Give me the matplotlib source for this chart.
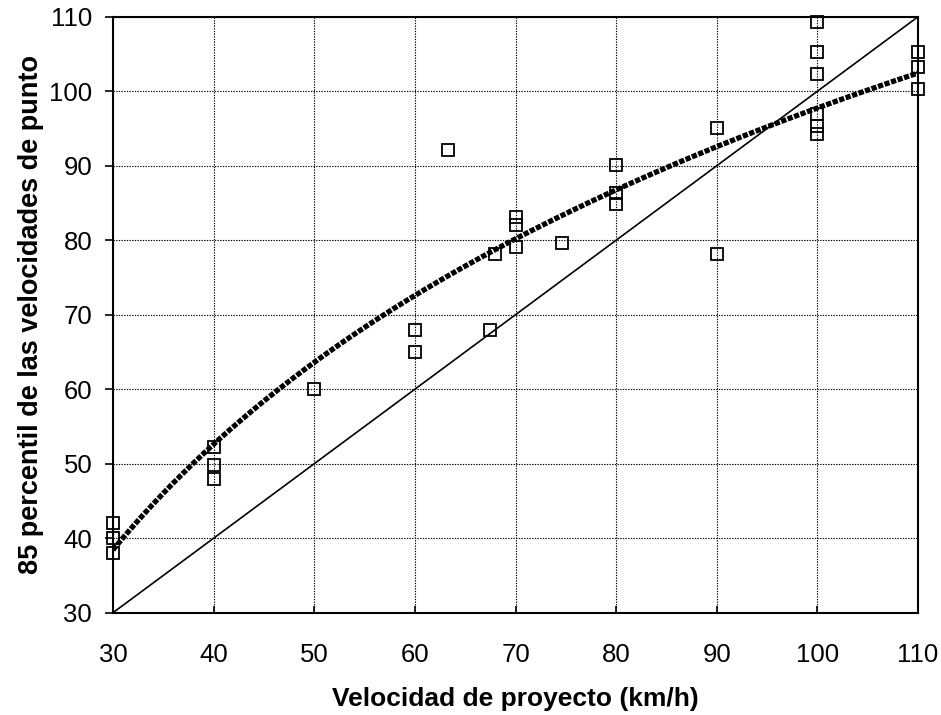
import numpy as np
import matplotlib
matplotlib.use("Agg")
import matplotlib.pyplot as plt

plt.rcParams['font.family'] = ['Liberation Sans', 'DejaVu Sans']

# Observed data (design speed vs 85th percentile spot speed)
design_speed = [30, 30, 30, 40, 40, 40, 50, 60, 60, 63.3, 67.5, 68, 70, 70, 70,
                74.6, 80, 80, 80, 90, 90, 100, 100, 100, 100, 100, 100,
                110, 110, 110]
v85 = [42, 40, 38, 52.2, 49.8, 48, 60, 68, 65, 92.1, 68, 78.1, 83.1, 82, 79.1,
       79.6, 90.1, 86.3, 84.9, 95, 78.1, 109.3, 105.2, 102.3, 97, 95.3, 94.2,
       105.2, 103.2, 100.3]

# Logarithmic trendline y = a + b*ln(x), coefficients
trend_a = -129.1
trend_b = 49.26
trend_range = [30, 110]

x_ticks = [30, 40, 50, 60, 70, 80, 90, 100, 110]
y_ticks = [30, 40, 50, 60, 70, 80, 90, 100, 110]

fig = plt.figure(figsize=(9.41, 7.15), dpi=100)
ax = fig.add_axes([0.1201, 0.1431, 0.8555, 0.8335])

xf = np.linspace(trend_range[0], trend_range[1], 400)
ax.plot(xf, trend_a + trend_b * np.log(xf), color='black', lw=3.8,
        linestyle=(0, (1.0, 0.3)), dash_capstyle='butt', zorder=3)

# 1:1 line
ax.plot([30, 110], [30, 110], color='black', lw=1.2, zorder=3)

# Scatter points
ax.plot(design_speed, v85, linestyle='none', marker='s', markersize=8.7,
        markerfacecolor='none', markeredgecolor='black', markeredgewidth=1.3,
        clip_on=False, zorder=4)

ax.set_xlim(30, 110)
ax.set_ylim(30, 110)
ax.set_xticks(x_ticks)
ax.set_yticks(y_ticks)
ax.grid(True, color='black', linestyle=(0, (1.2, 1.2)), linewidth=0.8)
ax.set_axisbelow(True)

for s in ax.spines.values():
    s.set_linewidth(1.5)
    s.set_color('black')

ax.tick_params(axis='x', direction='in', length=5, width=1.2, pad=22, labelsize=18.5)
ax.tick_params(axis='y', direction='out', length=6, width=1.2, pad=9, labelsize=18.5)

ax.set_xlabel('Velocidad de proyecto (km/h)', fontsize=19, fontweight='bold', labelpad=14)
ax.set_ylabel('85 percentil de las velocidades de punto', fontsize=19.5,
              fontweight='bold', labelpad=4)

fig.savefig('out.png', dpi=100)
